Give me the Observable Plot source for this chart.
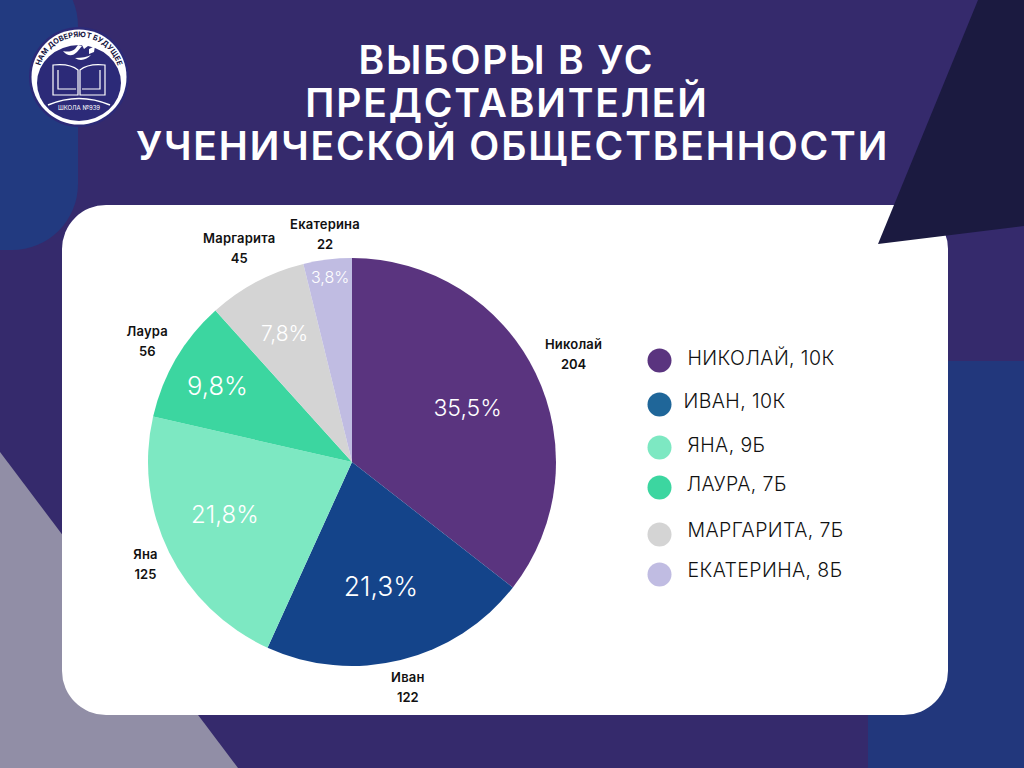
<!DOCTYPE html>
<html lang="ru">
<head>
<meta charset="utf-8">
<script src="https://cdn.jsdelivr.net/npm/d3@7"></script>
<script src="https://cdn.jsdelivr.net/npm/@observablehq/plot@0.6"></script>
<style>
html,body{margin:0;padding:0;background:#352a6c;overflow:hidden}
svg{display:block}
</style>
</head>
<body>
<div id="chart"></div>
<script>
// ---- data ----
const names = ["Николай", "Иван", "Яна", "Лаура", "Маргарита", "Екатерина"];
const votes = [204, 122, 125, 56, 45, 22];
const shares = ["35,5%", "21,3%", "21,8%", "9,8%", "7,8%", "3,8%"];
const classes = ["10К", "10К", "9Б", "7Б", "7Б", "8Б"];
const titleLines = ["ВЫБОРЫ В УС", "ПРЕДСТАВИТЕЛЕЙ", "УЧЕНИЧЕСКОЙ ОБЩЕСТВЕННОСТИ"];

// ---- styling and layout ----
const sliceColors = ["#5a347f", "#14448a", "#7de8c2", "#3cd6a0", "#d4d4d4", "#c0bce2"];
const legendColors = ["#5a347f", "#1f6699", "#7de8c2", "#3cd6a0", "#d4d4d4", "#c0bce2"];
const shareRadius = [127, 128, 138, 155, 145, 186];
const shareTurn = [1, 1, 4, -1, 0, 0];
const shareSize = [23, 26.5, 24, 25.5, 21, 16];
const nameRadius = [246, 232, 231, 238, 242, 229];
const legendRowY = [360, 404, 447, 487, 534, 574];
const legendTextY = [358, 401, 445, 484, 530, 570];
const legendTextX = [687, 683, 687, 686, 687, 687];
const titleX = [506, 506.5, 512];
const titleY = [61, 104, 147];
const textSpacing = ["1.85px", null, ".2px", null, ".4px"]; // title, shares, names, votes, legend
const pie = {cx: 352, cy: 462, r: 204};
const font = "Inter, 'Open Sans', sans-serif";

const table = names.map((name, i) => ({name, votes: votes[i], share: shares[i], cls: classes[i], i}));
const total = d3.sum(votes);
let acc = 0;
for (const d of table) { d.mid = (acc + d.votes / 2) / total * 2 * Math.PI; acc += d.votes; }
const polarX = (d, r, turn = 0) => pie.cx + Math.sin(d.mid + turn * Math.PI / 180) * r;
const polarY = (d, r, turn = 0) => pie.cy - Math.cos(d.mid + turn * Math.PI / 180) * r;

const svgNS = "http://www.w3.org/2000/svg";
function polygon(points, fill) {
  return (index, {x, y}) => {
    const p = document.createElementNS(svgNS, "path");
    p.setAttribute("d", d3.line().x(d => x(d[0])).y(d => y(d[1]))(points) + "Z");
    p.setAttribute("fill", fill);
    return p;
  };
}

// the pie slices, drawn through the plot's own x and y scales
function slices(index, {x, y}) {
  const g = d3.create("svg:g").attr("aria-label", "pie");
  const arcs = d3.pie().sort(null).value(d => d.votes)(table);
  const arc = d3.arc().innerRadius(0).outerRadius(x(pie.r) - x(0));
  g.selectAll("path").data(arcs).join("path")
    .attr("transform", `translate(${x(pie.cx)},${y(pie.cy)})`)
    .attr("d", arc)
    .attr("fill", d => sliceColors[d.data.i]);
  return g.node();
}

// school emblem
function emblem(index, {x, y}) {
  const g = d3.create("svg:g").attr("aria-label", "emblem")
    .attr("transform", `translate(${x(79)},${y(77)})`);
  g.append("circle").attr("r", 50).attr("fill", "#2c2a78");
  g.append("circle").attr("r", 47.5).attr("fill", "#fff");
  g.append("ellipse").attr("cy", 6).attr("rx", 42).attr("ry", 38).attr("fill", "#2c2a78");
  g.append("path").attr("id", "emblemArc").attr("fill", "none")
    .attr("d", "M-37,17 A40.5,40.5 0 1 1 37,17");
  g.append("text").attr("font-family", font).attr("font-size", 7.4).attr("font-weight", 700)
    .attr("fill", "#15153f").attr("text-anchor", "middle")
    .append("textPath").attr("href", "#emblemArc").attr("startOffset", "50%")
    .text("НАМ ДОВЕРЯЮТ БУДУЩЕЕ");
  // book
  g.append("path").attr("fill", "none").attr("stroke", "#fff").attr("stroke-width", 1.2)
    .attr("d", "M-26,-12V18H-1V-7C-7,-12 -17,-13 -26,-12ZM26,-12V18H1V-7C7,-12 17,-13 26,-12Z" +
               "M-21,-7V12H-3M21,-7V12H3");
  // doves
  g.append("path").attr("fill", "#fff")
    .attr("d", "M-16,-26C-11,-20 -6,-21 -2,-25L3,-31L-1,-32L-4,-28C-8,-25 -12,-25 -16,-26Z" +
               "M-4,-19C2,-15 8,-18 12,-22C8,-20 3,-19 -4,-19Z" +
               "M3,-32L9,-37L9,-31L5,-28Z M10,-28L16,-31L15,-25L10,-23Z");
  // lower arc and school name
  g.append("path").attr("fill", "none").attr("stroke", "#fff").attr("stroke-width", 1.6)
    .attr("d", "M-31,28 Q0,15 31,28");
  g.append("text").attr("font-family", font).attr("font-size", 6).attr("fill", "#fff")
    .attr("text-anchor", "middle").attr("y", 33).text("ШКОЛА №939");
  return g.node();
}

const plot = Plot.plot({
  width: 1024, height: 768, margin: 0,
  style: {background: "transparent"},
  x: {domain: [0, 1024], range: [0, 1024], axis: null},
  y: {domain: [0, 768], range: [0, 768], axis: null},
  marks: [
    // backdrop
    Plot.rect([0], {x1: -70, x2: 78, y1: -40, y2: 250, rx: 66, fill: "#223a80"}),
    Plot.rect([0], {x1: 868, x2: 1024, y1: 361, y2: 768, fill: "#22377c"}),
    polygon([[0, 452], [238, 768], [0, 768]], "#918ea6"),
    Plot.rect([0], {x1: 62, x2: 948, y1: 205, y2: 715, rx: 44, fill: "#ffffff"}),
    polygon([[978, 0], [878, 244], [1024, 226], [1024, 0]], "#1b1a40"),
    emblem,
    // title
    Plot.text(titleLines, {
      x: (d, i) => titleX[i], y: (d, i) => titleY[i], text: d => d,
      fill: "#fff", fontFamily: font, fontWeight: 600, fontSize: 39, lineAnchor: "middle"
    }),
    // pie
    slices,
    Plot.text(table, {
      x: d => polarX(d, shareRadius[d.i], shareTurn[d.i]), y: d => polarY(d, shareRadius[d.i], shareTurn[d.i]), text: "share",
      fill: "#fff", fontFamily: font, fontWeight: 300, fontSize: d => shareSize[d.i], lineAnchor: "middle"
    }),
    Plot.text(table, {
      x: d => polarX(d, nameRadius[d.i]), y: d => polarY(d, nameRadius[d.i]) - 10, text: "name",
      fill: "#111", fontFamily: font, fontWeight: 600, fontSize: 13, lineAnchor: "middle"
    }),
    Plot.text(table, {
      x: d => polarX(d, nameRadius[d.i]), y: d => polarY(d, nameRadius[d.i]) + 10, text: d => String(d.votes),
      fill: "#111", fontFamily: font, fontWeight: 600, fontSize: 13, lineAnchor: "middle"
    }),
    // legend
    Plot.dot(table, {x: () => 659, y: d => legendRowY[d.i], r: 12, fill: d => legendColors[d.i]}),
    Plot.text(table, {
      x: d => legendTextX[d.i], y: d => legendTextY[d.i],
      text: d => `${d.name.toUpperCase()}, ${d.cls}`,
      textAnchor: "start", fill: "#111", fontFamily: font, fontWeight: 300, fontSize: 19.5, lineAnchor: "middle"
    })
  ]
});
plot.querySelectorAll('g[aria-label="text"]').forEach((g, i) => {
  if (textSpacing[i]) g.style.letterSpacing = textSpacing[i];
});
document.getElementById("chart").append(plot);
</script>
</body>
</html>
